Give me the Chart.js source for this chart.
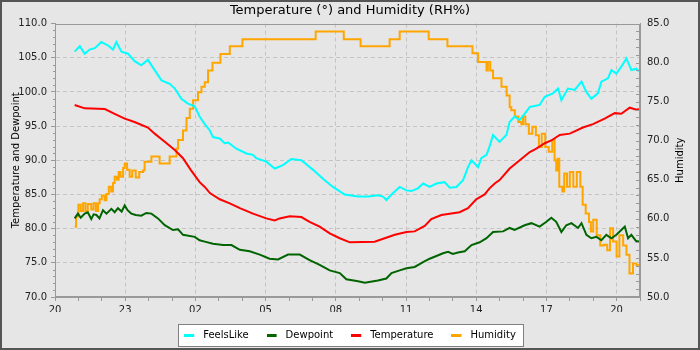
<!DOCTYPE html>
<html>
<head>
<meta charset="utf-8">
<script src="https://cdn.jsdelivr.net/npm/chart.js@4.4.1/dist/chart.umd.min.js"></script>
<style>
  html, body { margin: 0; padding: 0; background: #e6e6e6; }
  canvas { display: block; }
</style>
</head>
<body>
<canvas id="weatherChart" width="700" height="350"></canvas>
<script>
// time is in hours from midnight of the first day (24+ = next day)
var chartTitle = 'Temperature (°) and Humidity (RH%)';
var leftAxisTitle = 'Temperature and Dewpoint';
var rightAxisTitle = 'Humidity';
var seriesNames = ['FeelsLike', 'Dewpoint', 'Temperature', 'Humidity'];
var seriesColors = ['#00ffff', '#006400', '#ff0000', '#ffa500'];

var feelsTime = [20.84,21.06,21.27,21.48,21.7,21.98,22.27,22.48,22.62,22.84,
  23.12,23.4,23.69,23.97,24.26,24.55,24.9,25.12,25.4,25.68,
  25.97,26.18,26.4,26.61,26.75,27.04,27.25,27.4,27.75,28.18,
  28.46,28.6,29.03,29.39,29.74,30.1,30.53,31.03,31.45,31.88,
  32.38,32.95,33.38,33.8,34.02,34.16,34.38,34.73,35.02,35.23,
  35.51,35.73,36.01,36.3,36.65,36.87,37.15,37.44,37.65,37.8,
  38.08,38.22,38.44,38.57,38.72,39.0,39.29,39.43,39.64,39.86,
  40.07,40.29,40.71,40.93,41.28,41.5,41.64,41.92,42.21,42.5,
  42.71,42.92,43.2,43.35,43.63,43.78,43.99,44.2,44.42,44.63,
  44.85,44.95];
var feelsValues = [105.9,106.7,105.6,106.2,106.4,107.3,106.8,106.2,107.3,105.9,
  105.6,104.5,103.9,104.7,103.2,101.7,101.2,100.5,99.0,98.3,
  97.9,96.4,95.3,94.4,93.4,93.2,92.5,92.6,91.7,91.0,
  90.8,90.3,89.8,88.8,89.3,90.2,90.0,88.6,87.3,86.1,
  85.0,84.7,84.7,84.9,84.7,84.2,85.0,86.1,85.6,85.5,
  85.9,86.6,86.1,86.6,86.8,86.0,86.1,87.1,89.0,90.0,
  89.0,90.3,90.8,92.0,93.7,92.7,93.7,95.6,96.4,95.9,
  96.8,97.8,98.1,99.3,99.8,100.5,98.8,100.5,100.3,101.5,
  100.0,99.0,99.8,101.5,102.0,103.2,102.7,103.7,104.9,103.2,
  103.4,103.0];

var dewTime = [20.84,20.98,21.1,21.27,21.4,21.55,21.65,21.77,21.9,22.05,
  22.2,22.41,22.55,22.69,22.85,22.98,23.1,23.26,23.45,23.69,
  23.9,24.12,24.4,24.69,25.04,25.26,25.47,25.97,26.18,26.4,
  26.75,27.18,27.54,27.9,28.32,28.75,29.17,29.53,29.96,30.46,
  30.88,31.31,31.74,32.17,32.45,32.95,33.24,33.8,34.16,34.38,
  34.73,35.02,35.37,35.73,36.01,36.3,36.58,36.8,37.0,37.22,
  37.51,37.8,38.15,38.44,38.72,39.15,39.43,39.64,40.07,40.36,
  40.71,41.0,41.21,41.42,41.64,41.85,42.07,42.35,42.5,42.71,
  42.92,43.14,43.35,43.56,43.78,43.99,44.2,44.35,44.49,44.63,
  44.85,44.95];
var dewValues = [81.5,82.2,81.6,82.2,82.4,81.4,82.1,82.0,81.5,82.7,
  82.2,82.9,82.4,83.0,82.5,83.4,82.7,82.2,82.0,81.9,
  82.3,82.2,81.5,80.5,79.8,79.9,79.1,78.8,78.3,78.1,
  77.8,77.6,77.6,76.9,76.7,76.2,75.6,75.5,76.2,76.2,
  75.4,74.7,73.9,73.5,72.6,72.3,72.1,72.4,72.7,73.5,
  73.9,74.2,74.4,75.1,75.6,76.0,76.4,76.6,76.3,76.5,
  76.7,77.6,78.0,78.6,79.5,79.6,80.1,79.8,80.5,80.8,
  80.3,81.0,81.6,81.0,79.5,80.5,80.8,80.1,80.8,79.1,
  78.6,78.8,78.3,79.1,78.6,79.1,79.8,80.3,78.6,79.1,
  78.1,78.2];

var tempTime = [20.84,21.27,22.13,22.55,22.98,23.4,23.97,24.26,24.69,25.12,
  25.47,25.8,26.18,26.4,26.62,27.04,27.47,27.9,28.46,29.03,
  29.39,29.6,30.03,30.53,30.88,31.31,31.74,32.17,32.6,33.66,
  34.09,34.52,35.02,35.37,35.8,36.08,36.51,37.08,37.29,37.65,
  38.0,38.36,38.57,38.79,39.0,39.43,39.86,40.29,40.57,40.93,
  41.21,41.57,42.0,42.56,42.99,43.49,43.92,44.2,44.56,44.85,
  44.95];
var tempValues = [98.1,97.6,97.5,96.8,96.1,95.6,94.8,93.9,92.7,91.5,
  90.3,88.6,86.8,86.1,85.2,84.3,83.7,83.0,82.2,81.5,
  81.2,81.5,81.8,81.7,81.0,80.3,79.3,78.6,78.0,78.1,
  78.6,79.1,79.5,79.6,80.4,81.4,82.0,82.3,82.4,83.0,
  84.3,85.0,85.9,86.6,87.1,88.8,90.0,91.2,91.7,92.5,
  92.9,93.7,93.9,94.8,95.3,96.1,96.9,96.8,97.7,97.4,
  97.5];

// humidity is held until the next reading (stepped)
var humTime = [20.84,20.9,21.0,21.1,21.2,21.3,21.4,21.55,21.65,21.75,
  21.84,21.91,22.0,22.12,22.2,22.3,22.4,22.48,22.55,22.65,
  22.72,22.8,22.91,22.98,23.08,23.19,23.3,23.45,23.6,23.76,
  23.83,24.12,24.47,24.9,25.19,25.26,25.47,25.62,25.76,25.9,
  26.11,26.26,26.4,26.54,26.73,27.07,27.47,28.01,31.14,32.34,
  33.06,34.3,34.73,35.97,36.77,37.84,38.08,38.44,38.5,38.6,
  38.72,39.08,39.3,39.43,39.5,39.65,39.8,39.93,40.0,40.1,
  40.25,40.4,40.55,40.68,40.8,40.95,41.1,41.25,41.35,41.42,
  41.48,41.55,41.68,41.76,41.88,42.0,42.15,42.3,42.45,42.55,
  42.68,42.82,42.9,43.0,43.15,43.3,43.45,43.6,43.72,43.85,
  44.0,44.12,44.28,44.42,44.55,44.7,44.85,44.95];
var humValues = [59.0,60.3,61.8,61.0,62.0,61.0,61.9,61.2,62.0,61.0,
  62.0,62.5,63.0,62.4,63.2,64.1,63.5,64.6,65.4,65.0,
  66.0,65.4,66.5,67.1,66.3,65.4,66.2,65.3,66.0,66.2,
  67.3,68.0,67.1,68.0,69.0,70.1,71.3,72.9,74.1,75.2,
  76.2,76.9,77.5,79.0,80.0,81.1,82.1,83.0,84.0,83.0,
  82.1,83.0,84.0,83.0,82.1,81.2,80.1,79.0,80.1,79.0,
  78.0,76.9,75.8,74.3,73.9,73.1,72.4,72.1,73.1,72.1,
  70.9,71.8,70.7,69.2,70.9,69.2,68.6,70.1,67.5,66.2,
  67.7,64.1,63.5,65.8,64.1,66.0,64.1,66.0,64.1,61.8,
  60.7,59.6,58.4,59.9,57.9,56.6,56.7,56.0,58.8,57.1,
  55.2,57.9,56.6,55.4,53.0,54.3,54.1,54.1];

var xStart = 20, xEnd = 45, xMajorEvery = 3;

function pairs(times, values) {
  return times.map(function(t, i) { return { x: t, y: values[i] }; });
}

// short line used as the legend symbol
function legendMark(color) {
  var c = document.createElement('canvas');
  c.width = 14; c.height = 4;
  var g = c.getContext('2d');
  g.fillStyle = color;
  g.fillRect(0, 1, 10, 3);
  return c;
}

var chartDecor = {
  id: 'chartDecor',
  beforeDraw: function(chart) {
    var ctx = chart.ctx;
    ctx.save();
    ctx.fillStyle = '#e6e6e6';
    ctx.fillRect(0, 0, chart.width, chart.height);
    var hb = chart.legend && chart.legend.legendHitBoxes;
    if (hb && hb.length) {
      var last = hb[hb.length - 1];
      var x1 = Math.round(hb[0].left - 6), x2 = Math.round(last.left + last.width + 7);
      var y1 = Math.round(hb[0].top - 6), y2 = Math.round(hb[0].top + hb[0].height + 6);
      ctx.fillStyle = '#ffffff';
      ctx.fillRect(x1, y1, x2 - x1, y2 - y1);
      ctx.strokeStyle = '#808080';
      ctx.lineWidth = 1;
      ctx.strokeRect(x1 + 0.5, y1 + 0.5, x2 - x1, y2 - y1);
    }
    ctx.restore();
  },
  afterDraw: function(chart) {
    var ctx = chart.ctx, a = chart.chartArea;
    var yL = chart.scales.y, yR = chart.scales.y2;
    ctx.save();
    ctx.strokeStyle = '#999999';
    ctx.lineWidth = 1;
    ctx.strokeRect(Math.round(a.left) + 0.5, Math.round(a.top) + 0.5,
      Math.round(a.right - a.left) - 1, Math.round(a.bottom - a.top) - 1);
    ctx.beginPath();
    for (var v = 70; v <= 110; v++) {
      if (v % 5 === 0) continue;
      var py = Math.round(yL.getPixelForValue(v)) + 0.5;
      ctx.moveTo(a.left - 2, py); ctx.lineTo(a.left, py);
    }
    for (var h = 50; h <= 85; h++) {
      var py2 = Math.round(yR.getPixelForValue(h)) + 0.5;
      ctx.moveTo(a.right, py2); ctx.lineTo(a.right - 4, py2);
    }
    ctx.stroke();
    // right axis title reads bottom to top
    ctx.translate(680, (a.top + a.bottom) / 2);
    ctx.rotate(-Math.PI / 2);
    ctx.font = '10px "DejaVu Sans"';
    ctx.fillStyle = '#000000';
    ctx.textAlign = 'center';
    ctx.textBaseline = 'middle';
    ctx.fillText(rightAxisTitle, 0, 0);
    ctx.restore();
    ctx.save();
    ctx.strokeStyle = '#555555';
    ctx.lineWidth = 2;
    ctx.strokeRect(1, 1, chart.width - 2, chart.height - 2);
    ctx.restore();
  }
};

Chart.defaults.font.family = '"DejaVu Sans", sans-serif';
Chart.defaults.font.size = 10;

var datasetsData = [
  pairs(feelsTime, feelsValues),
  pairs(dewTime, dewValues),
  pairs(tempTime, tempValues),
  pairs(humTime, humValues)
];

new Chart(document.getElementById('weatherChart'), {
  type: 'line',
  data: {
    datasets: seriesNames.map(function(name, i) {
      return {
        label: name,
        data: datasetsData[i],
        borderColor: seriesColors[i],
        backgroundColor: seriesColors[i],
        pointStyle: legendMark(seriesColors[i]),
        yAxisID: name === 'Humidity' ? 'y2' : 'y',
        stepped: name === 'Humidity'
      };
    })
  },
  options: {
    responsive: false,
    animation: false,
    layout: { padding: 0 },
    elements: {
      point: { radius: 0, hoverRadius: 0 },
      line: { borderWidth: 2, tension: 0 }
    },
    scales: {
      x: {
        type: 'linear',
        min: xStart,
        max: xEnd,
        afterFit: function(s) { s.height = 15; },
        ticks: {
          stepSize: 1,
          autoSkip: false,
          maxRotation: 0,
          padding: 3,
          color: '#222222',
          callback: function(v) {
            return (v - xStart) % xMajorEvery === 0 ? String(v % 24).padStart(2, '0') : '';
          }
        },
        grid: {
          color: function(c) {
            var v = c.tick ? c.tick.value : 0;
            return ((v - xStart) % xMajorEvery === 0 && v > xStart && v < xEnd) ? '#c4c4c4' : 'rgba(0,0,0,0)';
          },
          tickColor: '#999999',
          tickLength: 4
        },
        border: { color: '#999999', dash: [4, 3] }
      },
      y: {
        position: 'left',
        min: 70,
        max: 110,
        afterFit: function(s) { s.width = 55; },
        ticks: {
          stepSize: 5,
          padding: 4,
          color: '#222222',
          callback: function(v) { return v.toFixed(1); }
        },
        grid: {
          color: function(c) {
            var v = c.tick ? c.tick.value : 0;
            return (v > 70 && v < 110) ? '#c4c4c4' : 'rgba(0,0,0,0)';
          },
          tickColor: '#999999',
          tickLength: 4
        },
        border: { color: '#999999', dash: [4, 3] },
        title: {
          display: true,
          text: leftAxisTitle,
          color: '#000000',
          padding: { top: 10, bottom: 0 }
        }
      },
      y2: {
        position: 'right',
        min: 50,
        max: 85,
        afterFit: function(s) { s.width = 60; },
        ticks: {
          stepSize: 5,
          padding: 7,
          color: '#222222',
          callback: function(v) { return v.toFixed(1); }
        },
        grid: { drawOnChartArea: false, drawTicks: false },
        border: { color: '#999999' }
      }
    },
    plugins: {
      title: {
        display: true,
        text: chartTitle,
        color: '#000000',
        font: { size: 13, weight: 'normal' },
        padding: { top: 3, bottom: 5 }
      },
      legend: {
        position: 'bottom',
        labels: {
          usePointStyle: true,
          pointStyleWidth: 14,
          padding: 18,
          color: '#000000'
        }
      },
      tooltip: { enabled: false }
    }
  },
  plugins: [chartDecor]
});
</script>
</body>
</html>
